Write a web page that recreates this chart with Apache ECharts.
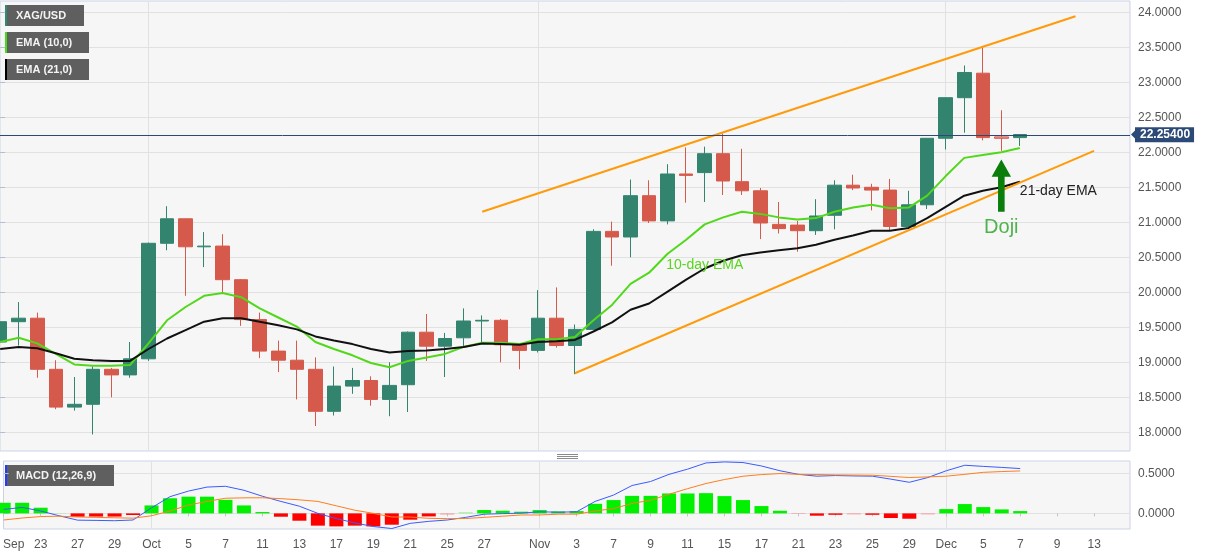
<!DOCTYPE html>
<html><head><meta charset="utf-8">
<script src="https://cdn.jsdelivr.net/npm/echarts@6/dist/echarts.min.js"></script>
<style>html,body{margin:0;padding:0;background:#fff;}#c{width:1207px;height:555px;}</style>
</head><body><div id="c"></div>
<script>
// ---------- data ----------
const days = ['Sep 21','Sep 22','Sep 23','Sep 26','Sep 27','Sep 28','Sep 29','Sep 30',
  'Oct 3','Oct 4','Oct 5','Oct 6','Oct 7','Oct 10','Oct 11','Oct 12','Oct 13','Oct 14',
  'Oct 17','Oct 18','Oct 19','Oct 20','Oct 21','Oct 24','Oct 25','Oct 26','Oct 27','Oct 28','Oct 31',
  'Nov 1','Nov 2','Nov 3','Nov 4','Nov 7','Nov 8','Nov 9','Nov 10','Nov 11','Nov 14','Nov 15',
  'Nov 16','Nov 17','Nov 18','Nov 21','Nov 22','Nov 23','Nov 24','Nov 25','Nov 28','Nov 29','Nov 30',
  'Dec 1','Dec 2','Dec 5','Dec 6','Dec 7','Dec 8','Dec 9','Dec 12','Dec 13'];
const tickDays = ['Sep 21','Sep 23','Sep 27','Sep 29','Oct 3','Oct 5','Oct 7','Oct 11','Oct 13','Oct 17',
  'Oct 19','Oct 21','Oct 25','Oct 27','Nov 1','Nov 3','Nov 7','Nov 9','Nov 11','Nov 15','Nov 17',
  'Nov 21','Nov 23','Nov 25','Nov 29','Dec 1','Dec 5','Dec 7','Dec 9','Dec 13'];
const tickLabels = ['Sep','23','27','29','Oct','5','7','11','13','17','19','21','25','27','Nov','3',
  '7','9','11','15','17','21','23','25','29','Dec','5','7','9','13'];
const monthStarts = ['Oct 3','Nov 1','Dec 1'];
const priceTicks = [18.0,18.5,19.0,19.5,20.0,20.5,21.0,21.5,22.0,22.5,23.0,23.5,24.0];
const macdTicks = [0.0, 0.5];

const opens = [19.29,19.58,19.63,18.90,18.36,18.40,18.90,18.82,
  19.05,20.70,21.05,20.65,20.66,20.18,19.61,19.16,
  19.03,18.90,18.30,18.66,18.74,18.47,18.68,19.43,
  19.23,19.35,19.59,19.60,19.25,19.17,19.63,19.24,
  19.47,20.87,20.79,21.38,21.02,21.69,21.71,21.98,
  21.58,21.45,20.97,20.96,20.88,21.10,21.53,21.50,
  21.46,20.94,21.25,22.20,22.78,23.13,22.22,22.21];
const closes = [19.58,19.63,18.90,18.36,18.40,18.90,18.82,19.05,
  20.70,21.05,20.65,20.66,20.18,19.61,19.16,19.03,
  18.90,18.30,18.66,18.74,18.47,18.67,19.43,19.23,
  19.34,19.59,19.60,19.25,19.17,19.63,19.24,19.47,
  20.87,20.79,21.38,21.02,21.69,21.67,21.98,21.59,
  21.45,20.99,20.91,20.88,21.09,21.53,21.49,21.46,
  20.94,21.25,22.20,22.78,23.14,22.21,22.20,22.254];
const lows = [19.28,19.24,18.78,18.33,18.31,17.97,18.50,18.78,
  19.02,20.60,19.95,20.36,19.98,19.52,19.06,18.86,
  18.47,18.09,18.24,18.55,18.38,18.23,18.29,19.02,
  18.79,19.22,19.27,19.00,18.90,19.14,19.21,18.83,
  19.46,20.38,20.50,20.99,20.97,21.28,21.29,21.39,
  21.39,20.76,20.84,20.58,20.82,20.90,21.46,21.17,
  20.89,20.91,21.19,22.04,22.28,22.17,22.02,22.09];
const highs = [19.91,19.86,19.71,19.03,18.79,18.94,18.92,19.29,
  20.71,21.23,21.05,20.86,20.83,20.19,19.71,19.31,
  19.31,19.07,18.94,18.92,18.80,19.00,19.44,19.69,
  19.42,19.77,19.67,19.62,19.26,20.03,20.07,19.54,
  20.90,21.01,21.61,21.60,21.83,22.07,22.08,22.27,
  22.05,21.49,21.29,21.02,21.33,21.60,21.68,21.55,
  21.62,21.45,22.20,22.78,23.24,23.52,22.60,22.26];
const dojiDays = ['Oct 6','Dec 6'];
const ema10 = [19.29,19.35,19.27,19.12,18.97,18.95,18.95,18.96,
  19.27,19.60,19.79,19.95,19.99,19.93,19.77,19.64,
  19.51,19.29,19.19,19.10,18.99,18.93,19.02,19.07,
  19.12,19.22,19.28,19.28,19.26,19.33,19.33,19.36,
  19.60,19.82,20.12,20.28,20.55,20.75,20.97,21.07,
  21.15,21.12,21.07,21.04,21.06,21.15,21.21,21.25,
  21.20,21.21,21.38,21.66,21.92,21.96,22.00,22.06];
const ema21 = [19.19,19.22,19.20,19.13,19.05,19.03,19.02,19.02,
  19.19,19.34,19.46,19.58,19.63,19.63,19.58,19.53,
  19.47,19.37,19.31,19.26,19.19,19.14,19.16,19.17,
  19.19,19.22,19.27,19.26,19.25,19.29,19.30,19.32,
  19.44,19.57,19.75,19.84,20.01,20.18,20.34,20.45,
  20.53,20.57,20.60,20.63,20.68,20.75,20.81,20.88,
  20.88,20.92,21.06,21.22,21.38,21.45,21.50,21.58];
const upperChannel = [['Oct 27', 21.15], ['Dec 12', 23.944]];
const lowerChannel = [['Nov 3', 18.843], ['Dec 13', 22.02]];
const lastPrice = 22.254;

const macdLine = [0.05,0.075,0.03,-0.03,-0.085,-0.088,-0.092,-0.083,
  0.07,0.21,0.28,0.33,0.34,0.29,0.215,0.15,
  0.09,0.0,-0.065,-0.12,-0.165,-0.19,-0.125,-0.10,
  -0.083,-0.05,-0.01,-0.003,0.003,0.02,0.015,0.02,
  0.15,0.23,0.35,0.40,0.49,0.555,0.633,0.646,
  0.638,0.595,0.535,0.49,0.467,0.475,0.47,0.467,
  0.43,0.39,0.45,0.535,0.604,0.59,0.577,0.5625];
const signalLine = [-0.083,-0.058,-0.04,-0.035,-0.045,-0.05,-0.055,-0.06,
  -0.03,0.03,0.105,0.15,0.19,0.195,0.196,0.185,
  0.17,0.15,0.095,0.04,0.0,-0.045,-0.046,-0.062,
  -0.066,-0.064,-0.05,-0.035,-0.02,-0.02,-0.01,-0.01,
  0.03,0.06,0.125,0.165,0.24,0.31,0.375,0.425,
  0.466,0.487,0.50,0.49,0.488,0.483,0.481,0.479,
  0.465,0.45,0.458,0.467,0.49,0.515,0.525,0.533];
const macdHist = [0.133,0.133,0.071,0.004,-0.042,-0.04,-0.04,-0.02,
  0.10,0.19,0.21,0.21,0.17,0.10,0.017,-0.042,
  -0.092,-0.154,-0.163,-0.154,-0.163,-0.142,-0.079,-0.038,
  -0.014,0.014,0.042,0.033,0.021,0.042,0.025,0.029,
  0.12,0.167,0.22,0.22,0.25,0.25,0.254,0.217,
  0.167,0.092,0.033,-0.008,-0.029,-0.018,-0.012,-0.018,
  -0.058,-0.067,-0.012,0.054,0.117,0.079,0.05,0.029];

// ---------- build ----------
const FONT = '"Liberation Sans", Arial, sans-serif';
const GREEN = '#33846f', RED = '#d65a4b';
const idx = d => days.indexOf(d);
const tickIdx = tickDays.map(idx);
const monthIdx = monthStarts.map(idx);
const xMin = -0.01, xMax = 60.94;

const candleData = opens.map((o, i) => {
  const item = { value: [i, o, closes[i], lows[i], highs[i]] };
  if (dojiDays.includes(days[i])) {
    item.itemStyle = closes[i] >= o
      ? { color: '#93c5b8', color0: '#93c5b8', borderColor: GREEN, borderColor0: GREEN }
      : { color: '#eea7a0', color0: '#eea7a0', borderColor: RED, borderColor0: RED };
  }
  return item;
});
const pairs = arr => arr.map((v, i) => [i, v]);
const chanData = c => c.map(p => [idx(p[0]), p[1]]);

const chart = echarts.init(document.getElementById('c'), null, { renderer: 'canvas' });

const gridStyle = { show: true, backgroundColor: '#f6f6f6', borderColor: '#ccd3e6', borderWidth: 1 };
const option = {
  animation: false,
  textStyle: { fontFamily: FONT },
  grid: [
    Object.assign({ left: 0, top: 1, width: 1130, height: 450 }, gridStyle),
    Object.assign({ left: 0, top: 461, width: 1130, height: 68 }, gridStyle)
  ],
  xAxis: [
    { type: 'value', gridIndex: 0, min: xMin, max: xMax,
      axisLine: { show: false }, axisTick: { show: false, customValues: monthIdx },
      axisLabel: { show: false, customValues: monthIdx },
      splitLine: { show: true, lineStyle: { color: '#e1e1e1' } } },
    { type: 'value', gridIndex: 1, min: xMin, max: xMax, position: 'bottom',
      axisLine: { show: false },
      axisTick: { show: true, length: 3, customValues: tickIdx, lineStyle: { color: '#c4c4c4' } },
      axisLabel: { customValues: tickIdx, color: '#555', fontSize: 12, margin: 10, fontFamily: FONT,
        formatter: v => { const k = tickIdx.indexOf(Math.round(v)); const t = tickLabels[k];
          return k === 0 ? '{first|' + t + '}' : t; },
        rich: { first: { padding: [0, 0, 0, 20], color: '#555', fontSize: 12, fontFamily: FONT } } },
      splitLine: { show: false } },
    { type: 'value', gridIndex: 1, min: xMin, max: xMax, position: 'top',
      axisLine: { show: false }, axisTick: { show: false, customValues: monthIdx },
      axisLabel: { show: false, customValues: monthIdx },
      splitLine: { show: true, lineStyle: { color: '#e1e1e1' } } }
  ],
  yAxis: [
    { type: 'value', gridIndex: 0, position: 'right', min: 17.733, max: 24.161,
      axisLine: { show: false },
      axisTick: { show: true, length: 5, customValues: priceTicks, lineStyle: { color: '#b5bcd2' } },
      axisLabel: { customValues: priceTicks, formatter: v => v.toFixed(4), color: '#555', fontSize: 12, margin: 8 },
      splitLine: { show: true, lineStyle: { color: '#e1e1e1' } } },
    { type: 'value', gridIndex: 1, position: 'right', min: -0.196, max: 0.6575,
      axisLine: { show: false },
      axisTick: { show: true, length: 5, customValues: macdTicks, lineStyle: { color: '#b5bcd2' } },
      axisLabel: { customValues: macdTicks, formatter: v => v.toFixed(4), color: '#555', fontSize: 12, margin: 8 },
      splitLine: { show: true, lineStyle: { color: '#e1e1e1' } } }
  ],
  series: [
    { type: 'candlestick', xAxisIndex: 0, yAxisIndex: 0, barWidth: 14,
      encode: { x: 0, y: [1, 2, 3, 4] }, data: candleData,
      itemStyle: { color: GREEN, color0: RED, borderColor: GREEN, borderColor0: RED, borderWidth: 1 },
      markLine: { symbol: 'none', silent: true, animation: false,
        data: [{ yAxis: lastPrice }],
        lineStyle: { color: '#2c4a77', width: 1, type: 'solid' },
        label: { position: 'end', distance: 5, formatter: () => lastPrice.toFixed(5),
          color: '#fff', fontWeight: 'bold', fontSize: 12, fontFamily: FONT,
          backgroundColor: '#2c4a77', padding: [1, 4, 1, 5], lineHeight: 13 } },
      z: 2 },
    { type: 'line', xAxisIndex: 0, yAxisIndex: 0, data: pairs(ema10), showSymbol: false,
      lineStyle: { color: '#52d81a', width: 2 }, z: 3 },
    { type: 'line', xAxisIndex: 0, yAxisIndex: 0, data: pairs(ema21), showSymbol: false,
      lineStyle: { color: '#111', width: 2 }, z: 3 },
    { type: 'line', xAxisIndex: 0, yAxisIndex: 0, data: chanData(upperChannel), showSymbol: false,
      lineStyle: { color: '#ff9a0a', width: 2 }, z: 4 },
    { type: 'line', xAxisIndex: 0, yAxisIndex: 0, data: chanData(lowerChannel), showSymbol: false,
      lineStyle: { color: '#ff9a0a', width: 2 }, z: 4 },
    { type: 'bar', xAxisIndex: 1, yAxisIndex: 1, barWidth: 14, data: pairs(macdHist),
      itemStyle: { color: p => { const v = p.value[1];
        if (Math.abs(v) < 0.015) return v >= 0 ? '#9af09a' : '#f59a9a';
        return v >= 0 ? '#00f000' : '#ff0000'; } }, z: 2 },
    { type: 'line', xAxisIndex: 1, yAxisIndex: 1, data: pairs(macdLine), showSymbol: false,
      lineStyle: { color: '#3a5bff', width: 1 }, z: 3 },
    { type: 'line', xAxisIndex: 1, yAxisIndex: 1, data: pairs(signalLine), showSymbol: false,
      lineStyle: { color: '#ff7f1e', width: 1 }, z: 3 }
  ]
};
chart.setOption(option);

// ---------- annotations ----------
const P = (d, v) => chart.convertToPixel({ gridIndex: 0 }, [idx(d), v]);
function tag(x, y, w, h, strip, text) {
  return { type: 'group', z: 100, children: [
    { type: 'rect', shape: { x: x, y: y, width: w, height: h }, style: { fill: '#5f5f5f' } },
    { type: 'rect', shape: { x: x, y: y, width: 2, height: h }, style: { fill: strip } },
    { type: 'text', style: { x: x + 11, y: y + h / 2 + 0.5, text: text, fill: '#f4f4f4',
      font: 'bold 11px ' + FONT, verticalAlign: 'middle', align: 'left' } }
  ] };
}
const ema10Pos = P('Nov 14', 20.39);
const ema21Pos = P('Dec 7', 21.447);
const dojiPos = P('Dec 6', 20.93);
const tip = P('Dec 6', 21.898), head = P('Dec 6', 21.651), base = P('Dec 6', 21.151);
const ax = tip[0];
const priceY = P('Dec 7', lastPrice)[1];

chart.setOption({
  graphic: [
    tag(5, 5, 79, 21, '#2f8a73', 'XAG/USD'),
    tag(5, 32, 84, 21, '#3fe01a', 'EMA (10,0)'),
    tag(5, 59, 84, 21, '#000000', 'EMA (21,0)'),
    tag(5, 465, 109, 21, '#1f3cff', 'MACD (12,26,9)'),
    { type: 'group', z: 100, children: [0, 2, 4].map(o => ({ type: 'line',
      shape: { x1: 557, y1: 454.5 + o, x2: 578, y2: 454.5 + o }, style: { stroke: '#8a8a8a', lineWidth: 1 } })) },
    { type: 'text', z: 100, style: { x: ema10Pos[0], y: ema10Pos[1], text: '10-day EMA', fill: '#5ad41e',
      font: '14px ' + FONT, align: 'center', verticalAlign: 'middle' } },
    { type: 'text', z: 100, style: { x: ema21Pos[0], y: ema21Pos[1], text: '21-day EMA', fill: '#222',
      font: '14px ' + FONT, align: 'left', verticalAlign: 'middle' } },
    { type: 'text', z: 100, style: { x: dojiPos[0], y: dojiPos[1], text: 'Doji', fill: '#4fb34c',
      font: '20px ' + FONT, align: 'center', verticalAlign: 'middle' } },
    { type: 'polygon', z: 100, shape: { points: [
      [ax, tip[1]], [ax + 9.7, head[1]], [ax + 3.3, head[1]], [ax + 3.3, base[1]],
      [ax - 3.3, base[1]], [ax - 3.3, head[1]], [ax - 9.7, head[1]] ] },
      style: { fill: '#0a7d0a' } },
    { type: 'polygon', z: 100, shape: { points: [[1131, priceY], [1135.5, priceY - 4.5], [1135.5, priceY + 4.5]] },
      style: { fill: '#2c4a77' } }
  ]
});
</script></body></html>
